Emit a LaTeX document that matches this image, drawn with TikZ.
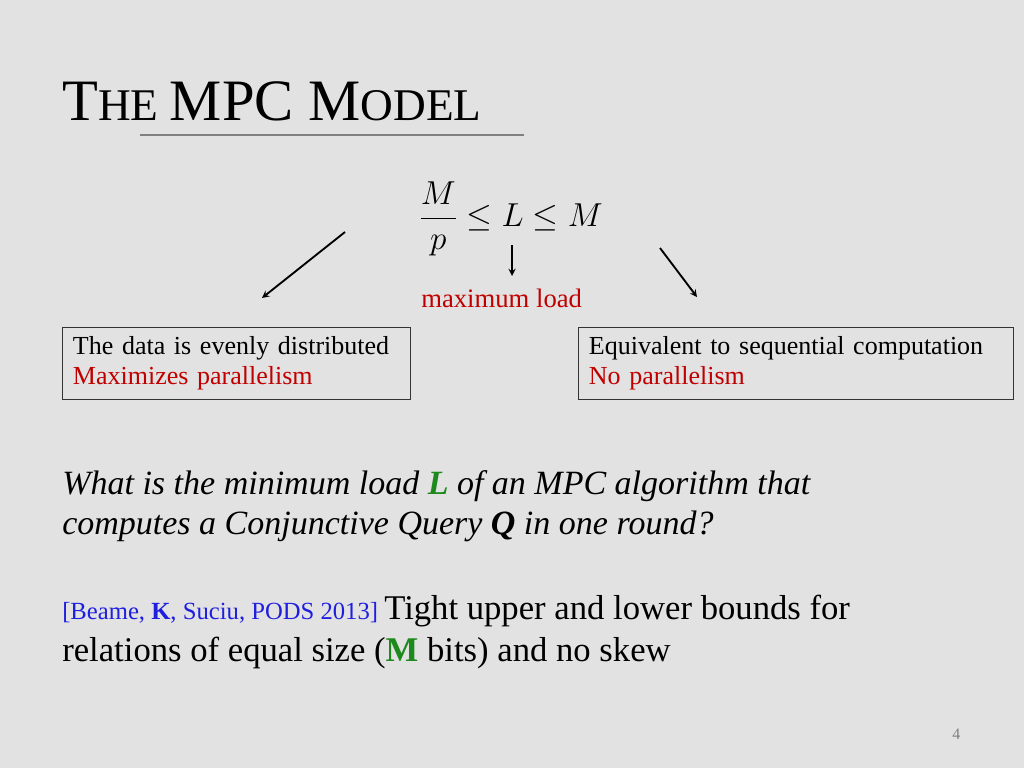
\documentclass[tikz,border=0pt]{standalone}
\usepackage{fontspec}
\setmainfont{Liberation Serif}
\usetikzlibrary{positioning}
\definecolor{slidebg}{HTML}{E2E2E2}
\definecolor{loadred}{HTML}{C00000}
\definecolor{refblue}{HTML}{1F1FE0}
\definecolor{keygreen}{HTML}{1E8A1E}
\begin{document}
\begin{tikzpicture}[x=0.75pt,y=-0.75pt,
  txt/.style={anchor=base west, inner sep=0pt},
  infobox/.style={draw=black!80, fill=slidebg, anchor=north west, inner sep=0pt, text width=#1, minimum height=54pt, align=left, font=\fontsize{19.5}{23}\selectfont},
  pointer/.style={-stealth, line width=1.4pt},
]
\fill[slidebg] (0,0) rectangle (1024,768);
\useasboundingbox (0,0) rectangle (1024,768);

% title
\node[txt] (title) at (62,120) {\fontsize{44}{48}\selectfont T\fontsize{34}{36}\selectfont HE \fontsize{44}{48}\selectfont MPC M\fontsize{34}{36}\selectfont ODEL};
\draw[gray, line width=1.5pt] (140,135) -- (524,135);

% formula
\node[inner sep=0pt] (formula) at (511,219) {\fontsize{50}{56}\selectfont$\displaystyle\frac{M}{p}\le L\le M$};
\coordinate (leftstart) at (345,232);
\coordinate (leftend) at (262,298);
\coordinate (midstart) at (512,245);
\coordinate (midend) at (512,276);
\coordinate (rightstart) at (660,248);
\coordinate (rightend) at (697,297);
\draw[pointer] (leftstart) -- (leftend);
\draw[pointer] (midstart) -- (midend);
\draw[pointer] (rightstart) -- (rightend);
\node[txt, text=loadred] (maxload) at (421,307) {\fontsize{20}{22}\selectfont maximum load};

% boxes
\node[infobox=261pt] (leftbox) at (62,327) {\hspace*{8pt}The data is evenly distributed\\\hspace*{8pt}\textcolor{loadred}{Maximizes parallelism}};
\node[infobox=326pt] (rightbox) at (578,327) {\hspace*{8pt}Equivalent to sequential computation\\\hspace*{8pt}\textcolor{loadred}{No parallelism}};

% question
\node[txt] (question) at (62,494) {\fontsize{25.5}{30}\selectfont\itshape What is the minimum load \textcolor{keygreen}{\textbf{L}} of an MPC algorithm that};
\node[txt] (question2) at (62,534) {\fontsize{25.5}{30}\selectfont\itshape computes a Conjunctive Query \textbf{Q} in one round?};

% reference
\node[txt] (cite) at (62,619) {\fontsize{18.5}{20}\selectfont\textcolor{refblue}{[Beame, \textbf{K}, Suciu, PODS 2013]} \fontsize{26}{28}\selectfont Tight upper and lower bounds for};
\node[txt] (cite2) at (62,661) {\fontsize{26}{28}\selectfont relations of equal size (\textcolor{keygreen}{\textbf{M}} bits) and no skew};

\node[txt, text=gray] (pagenum) at (952,739) {\fontsize{12}{13}\selectfont 4};
\end{tikzpicture}
\end{document}
